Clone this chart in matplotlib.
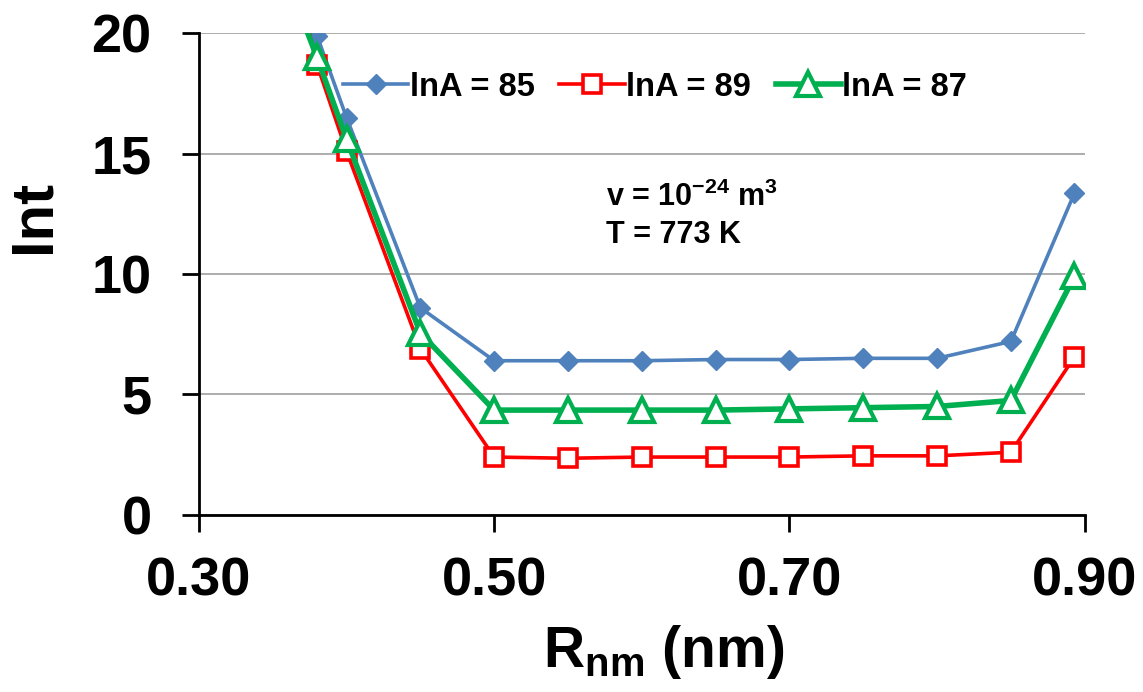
import matplotlib
matplotlib.use("Agg")
import matplotlib.pyplot as plt
from matplotlib.lines import Line2D

plt.rcParams['font.family'] = ['Liberation Sans', 'DejaVu Sans']
plt.rcParams['mathtext.default'] = 'regular'

r_nm = [0.38, 0.40, 0.45, 0.50, 0.55, 0.60, 0.65, 0.70, 0.75, 0.80, 0.85, 0.893]
r_nm_ext = [0.37] + r_nm
int_85 = [19.9, 16.5, 8.6, 6.4, 6.4, 6.4, 6.45, 6.45, 6.5, 6.5, 7.2, 13.35]
int_89 = [21.2, 18.7, 15.1, 6.9, 2.4, 2.35, 2.4, 2.4, 2.4, 2.45, 2.45, 2.6, 6.55]
int_87 = [20.6, 19.0, 15.6, 7.55, 4.35, 4.35, 4.35, 4.35, 4.4, 4.45, 4.5, 4.75, 9.9]
labels = ['lnA = 85', 'lnA = 89', 'lnA = 87']
x_ticks = [0.30, 0.50, 0.70, 0.90]
y_ticks = [0, 5, 10, 15, 20]

BLUE, RED, GREEN = '#4F81BD', '#FF0000', '#00B050'

fig = plt.figure(figsize=(11.43, 6.92), dpi=100)
ax = fig.add_axes([0.174, 0.256, 0.775, 0.696])

blue_kw = dict(color=BLUE, lw=2.6, marker='D', ms=10, mfc=BLUE, mec=BLUE)
red_kw = dict(color=RED, lw=2.6, marker='s', ms=12.5, mfc='white', mec=RED, mew=2.6)
green_kw = dict(color=GREEN, lw=4.0, marker='^', ms=17, mfc='white', mec=GREEN, mew=3.0)

ax.plot(r_nm, int_85, zorder=3, **blue_kw)
ax.plot(r_nm_ext, int_89, zorder=3, markevery=list(range(1, len(r_nm_ext))), **red_kw)
ax.plot(r_nm_ext, int_87, zorder=4, markevery=list(range(1, len(r_nm_ext))), **green_kw)

ax.set_xlim(0.30, 0.90)
ax.set_ylim(0, 20)
ax.set_xticks(x_ticks)
ax.set_xticklabels([f'{v:.2f}' for v in x_ticks])
ax.set_yticks(y_ticks)
ax.yaxis.grid(True, color='#A6A6A6', lw=1.3)
ax.set_axisbelow(True)
for s in ['top', 'right']:
    ax.spines[s].set_visible(False)
for s in ['left', 'bottom']:
    ax.spines[s].set_color('black')
    ax.spines[s].set_linewidth(2.0)
ax.tick_params(axis='both', direction='out', length=12, width=2.0, labelsize=39)
ax.tick_params(axis='y', pad=22)
ax.tick_params(axis='x', pad=18)
for t in ax.get_xticklabels() + ax.get_yticklabels():
    t.set_fontweight('bold')

ax.set_xlabel('R$_{nm}$ (nm)', fontsize=41, fontweight='bold')
ax.xaxis.set_label_coords(0.525, -0.285)
ax.xaxis.label.set_va('center')
ax.set_ylabel('Int', fontsize=43, fontweight='bold')
ax.yaxis.set_label_coords(-0.186, 0.62)
ax.yaxis.label.set_va('center')

handles = [Line2D([], [], **blue_kw), Line2D([], [], **red_kw), Line2D([], [], **green_kw)]
ax.legend(handles, labels, loc='center', bbox_to_anchor=(0.515, 0.888), ncol=3, frameon=False,
          prop={'size': 23.5, 'weight': 'bold'}, handlelength=2.0, handletextpad=0.05, columnspacing=0.75)

ax.text(0.46, 0.66, 'v = 10$^{-24}$ m$^3$', transform=ax.transAxes, fontsize=22, fontweight='bold', va='center')
ax.text(0.46, 0.581, 'T = 773 K', transform=ax.transAxes, fontsize=22, fontweight='bold', va='center')

fig.savefig('out.png', dpi=100)
